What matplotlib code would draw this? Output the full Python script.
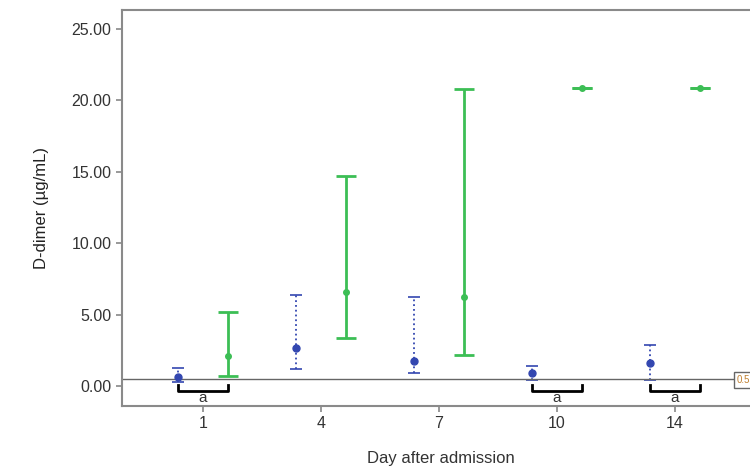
import numpy as np
import matplotlib.pyplot as plt

plt.rcParams['font.family'] = ['Liberation Sans', 'DejaVu Sans']

days = ['1', '4', '7', '10', '14']

# group 1 (blue, dotted)
blue_med = [0.6, 2.65, 1.75, 0.9, 1.6]
blue_low = [0.3, 1.2, 0.9, 0.4, 0.4]
blue_high = [1.25, 6.35, 6.2, 1.4, 2.9]

# group 2 (green, solid)
green_med = [2.1, 6.6, 6.2, 20.9, 20.9]
green_low = [0.7, 3.35, 2.2, 20.9, 20.9]
green_high = [5.2, 14.7, 20.8, 20.9, 20.9]

ref_value = 0.5
sig_days = ['1', '10', '14']

fig = plt.figure(figsize=(7.5, 4.69), dpi=100)
ax = fig.add_axes([122 / 750, 1 - 406 / 469, 638 / 750, 396 / 469])

x = np.arange(len(days))
off = 0.21

bm = np.array(blue_med)
gm = np.array(green_med)
eb = ax.errorbar(x - off, bm, yerr=[bm - np.array(blue_low), np.array(blue_high) - bm],
                 fmt='o', ms=5, color='#3347b0', ecolor='#3347b0', elinewidth=1.3,
                 capsize=4, capthick=1.2)
eb[-1][0].set_linestyle(':')

ax.errorbar(x + off, gm, yerr=[gm - np.array(green_low), np.array(green_high) - gm],
            fmt='o', ms=4, color='#3cbe55', ecolor='#3cbe55', elinewidth=2,
            capsize=7, capthick=2)

ax.axhline(ref_value, color='#666666', lw=1)
ax.text(737 / 750, 1 - 380 / 469, '0.55', transform=fig.transFigure, fontsize=7,
        color='#c08030', va='center', ha='left',
        bbox=dict(boxstyle='square,pad=0.3', fc='white', ec='#666666', lw=1))

for d in sig_days:
    i = days.index(d)
    ax.plot([i - off, i - off, i + off, i + off], [0.1, -0.35, -0.35, 0.1],
            color='black', lw=2)
    ax.text(i, -0.85, 'a', ha='center', va='center', fontsize=11, color='#333333')

ax.set_xlim(-0.686, 4.72)
ax.set_ylim(-1.4, 26.33)
ax.set_xticks(x)
ax.set_xticklabels(days)
ax.set_yticks(np.arange(0, 26, 5))
ax.set_yticklabels([f'{v:.2f}' for v in np.arange(0, 26, 5)])
ax.tick_params(colors='#888888', labelcolor='#333333', labelsize=11.5, length=4, width=1.2)

for s in ax.spines.values():
    s.set_color('#8a8a8a')
    s.set_linewidth(1.5)

ax.set_xlabel('Day after admission', fontsize=12, color='#333333', labelpad=14)
ax.set_ylabel('D-dimer (µg/mL)', fontsize=12, color='#222222', labelpad=16)

plt.savefig('out.png', dpi=100)
